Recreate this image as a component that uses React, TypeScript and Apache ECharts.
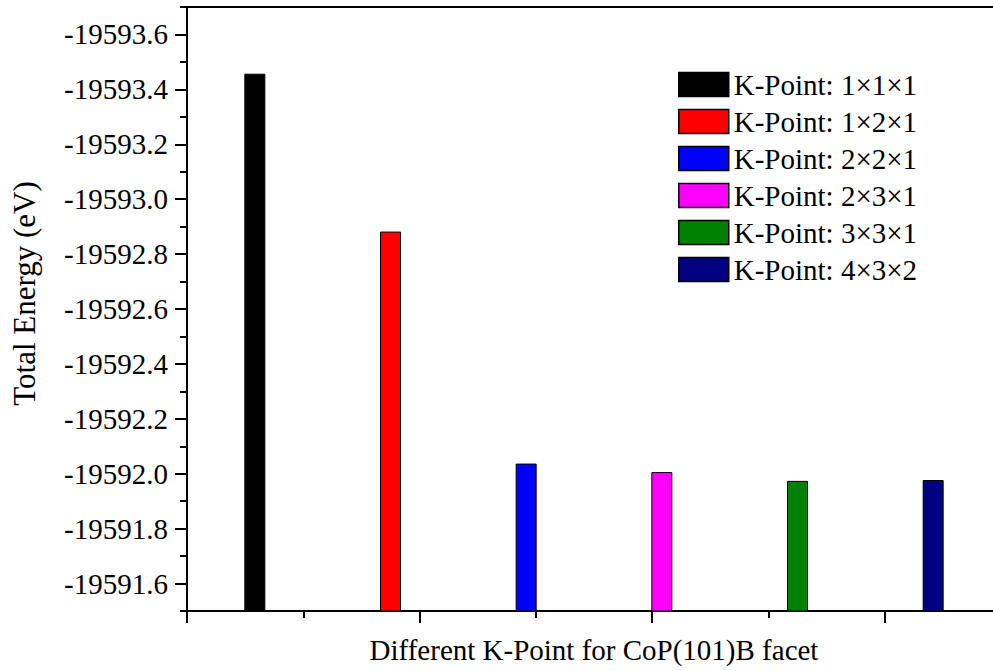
import React, { useEffect, useRef } from "react";
import * as echarts from "echarts";

const KPOINTS = [
  "K-Point: 1×1×1",
  "K-Point: 1×2×1",
  "K-Point: 2×2×1",
  "K-Point: 2×3×1",
  "K-Point: 3×3×1",
  "K-Point: 4×3×2",
];
const ENERGIES = [-19593.457, -19592.882, -19592.037, -19592.006, -19591.974, -19591.977];
const Y_MIN = -19593.7;
const Y_MAX = -19591.5;
const Y_MAJOR_TICKS = [
  -19593.6, -19593.4, -19593.2, -19593.0, -19592.8, -19592.6,
  -19592.4, -19592.2, -19592.0, -19591.8, -19591.6,
];
const X_TICK_MAX = 7;
const COLORS = ["#000000", "#ff0000", "#0000ff", "#ff00ff", "#008000", "#000080"];
const FONT = "Liberation Serif";

export default function App() {
  const ref = useRef<HTMLDivElement>(null);
  useEffect(() => {
    if (!ref.current) return;
    const chart = echarts.init(ref.current, null, { renderer: "svg" });
    const isMajor = (v: number) => Y_MAJOR_TICKS.some((t) => Math.abs(t - v) < 1e-6);
    const option: any = {
      animation: false,
      backgroundColor: "#ffffff",
      textStyle: { fontFamily: FONT, color: "#000" },
      grid: {
        left: 187,
        top: 7,
        right: -8,
        bottom: 60,
        show: true,
        borderColor: "#000",
        borderWidth: 2,
        backgroundColor: "transparent",
        containLabel: false,
        outerBoundsMode: "none",
      },
      legend: {
        orient: "vertical",
        left: 673,
        top: 65,
        itemWidth: 50,
        itemHeight: 24,
        itemGap: 8,
        icon: "rect",
        itemStyle: { borderColor: "#000", borderWidth: 1.5 },
        textStyle: { fontFamily: FONT, fontSize: 29, lineHeight: 29, color: "#000" },
        data: KPOINTS,
      },
      xAxis: [
        {
          type: "category",
          data: KPOINTS,
          position: "bottom",
          boundaryGap: true,
          axisLine: { show: true, onZero: false, lineStyle: { color: "#000", width: 2 } },
          axisTick: { show: false },
          axisLabel: { show: false },
          splitLine: { show: false },
          name: "Different K-Point for CoP(101)B facet",
          nameLocation: "middle",
          nameGap: 24,
          nameTextStyle: { fontFamily: FONT, fontSize: 29, color: "#000" },
        },
        {
          type: "value",
          position: "bottom",
          min: 0,
          max: X_TICK_MAX,
          interval: 2,
          axisLine: { show: false, onZero: false },
          axisTick: { show: true, inside: false, length: 12, lineStyle: { color: "#000", width: 2 } },
          axisLabel: { show: false },
          splitLine: { show: false },
        },
        {
          type: "value",
          position: "bottom",
          min: 0,
          max: X_TICK_MAX,
          interval: 1,
          axisLine: { show: false, onZero: false },
          axisTick: { show: true, inside: false, length: 7, lineStyle: { color: "#000", width: 2 } },
          axisLabel: { show: false },
          splitLine: { show: false },
        },
      ],
      yAxis: [
        {
          type: "value",
          position: "left",
          inverse: true,
          min: Y_MIN,
          max: Y_MAX,
          interval: 0.1,
          axisLine: { show: true, onZero: false, lineStyle: { color: "#000", width: 2 } },
          axisTick: {
            show: true,
            inside: false,
            length: 12,
            customValues: Y_MAJOR_TICKS,
            lineStyle: { color: "#000", width: 2 },
          },
          axisLabel: {
            show: true,
            margin: 19,
            fontFamily: FONT,
            fontSize: 29,
            color: "#000",
            formatter: (v: number) => (isMajor(v) ? v.toFixed(1) : ""),
          },
          splitLine: { show: false },
          name: "Total Energy (eV)",
          nameLocation: "middle",
          nameRotate: 90,
          nameGap: 147,
          nameTextStyle: { fontFamily: FONT, fontSize: 31, color: "#000", padding: [0, 0, 0, 31] },
        },
        {
          type: "value",
          position: "left",
          inverse: true,
          min: Y_MIN,
          max: Y_MAX,
          interval: 0.1,
          axisLine: { show: false, onZero: false },
          axisTick: { show: true, inside: false, length: 7, lineStyle: { color: "#000", width: 2 } },
          axisLabel: { show: false },
          splitLine: { show: false },
        },
      ],
      series: KPOINTS.map((name, i) => ({
        name,
        type: "bar",
        xAxisIndex: 0,
        yAxisIndex: 0,
        barWidth: 21,
        barGap: "-100%",
        clip: true,
        itemStyle: { color: COLORS[i], borderColor: "#000", borderWidth: 1 },
        data: ENERGIES.map((v, j) => (j === i ? v : "-")),
      })),
    };
    chart.setOption(option);
    return () => chart.dispose();
  }, []);
  return (
    <div
      ref={ref}
      style={{ position: "absolute", left: 0, top: 0, width: 993, height: 671, background: "#fff" }}
    />
  );
}
